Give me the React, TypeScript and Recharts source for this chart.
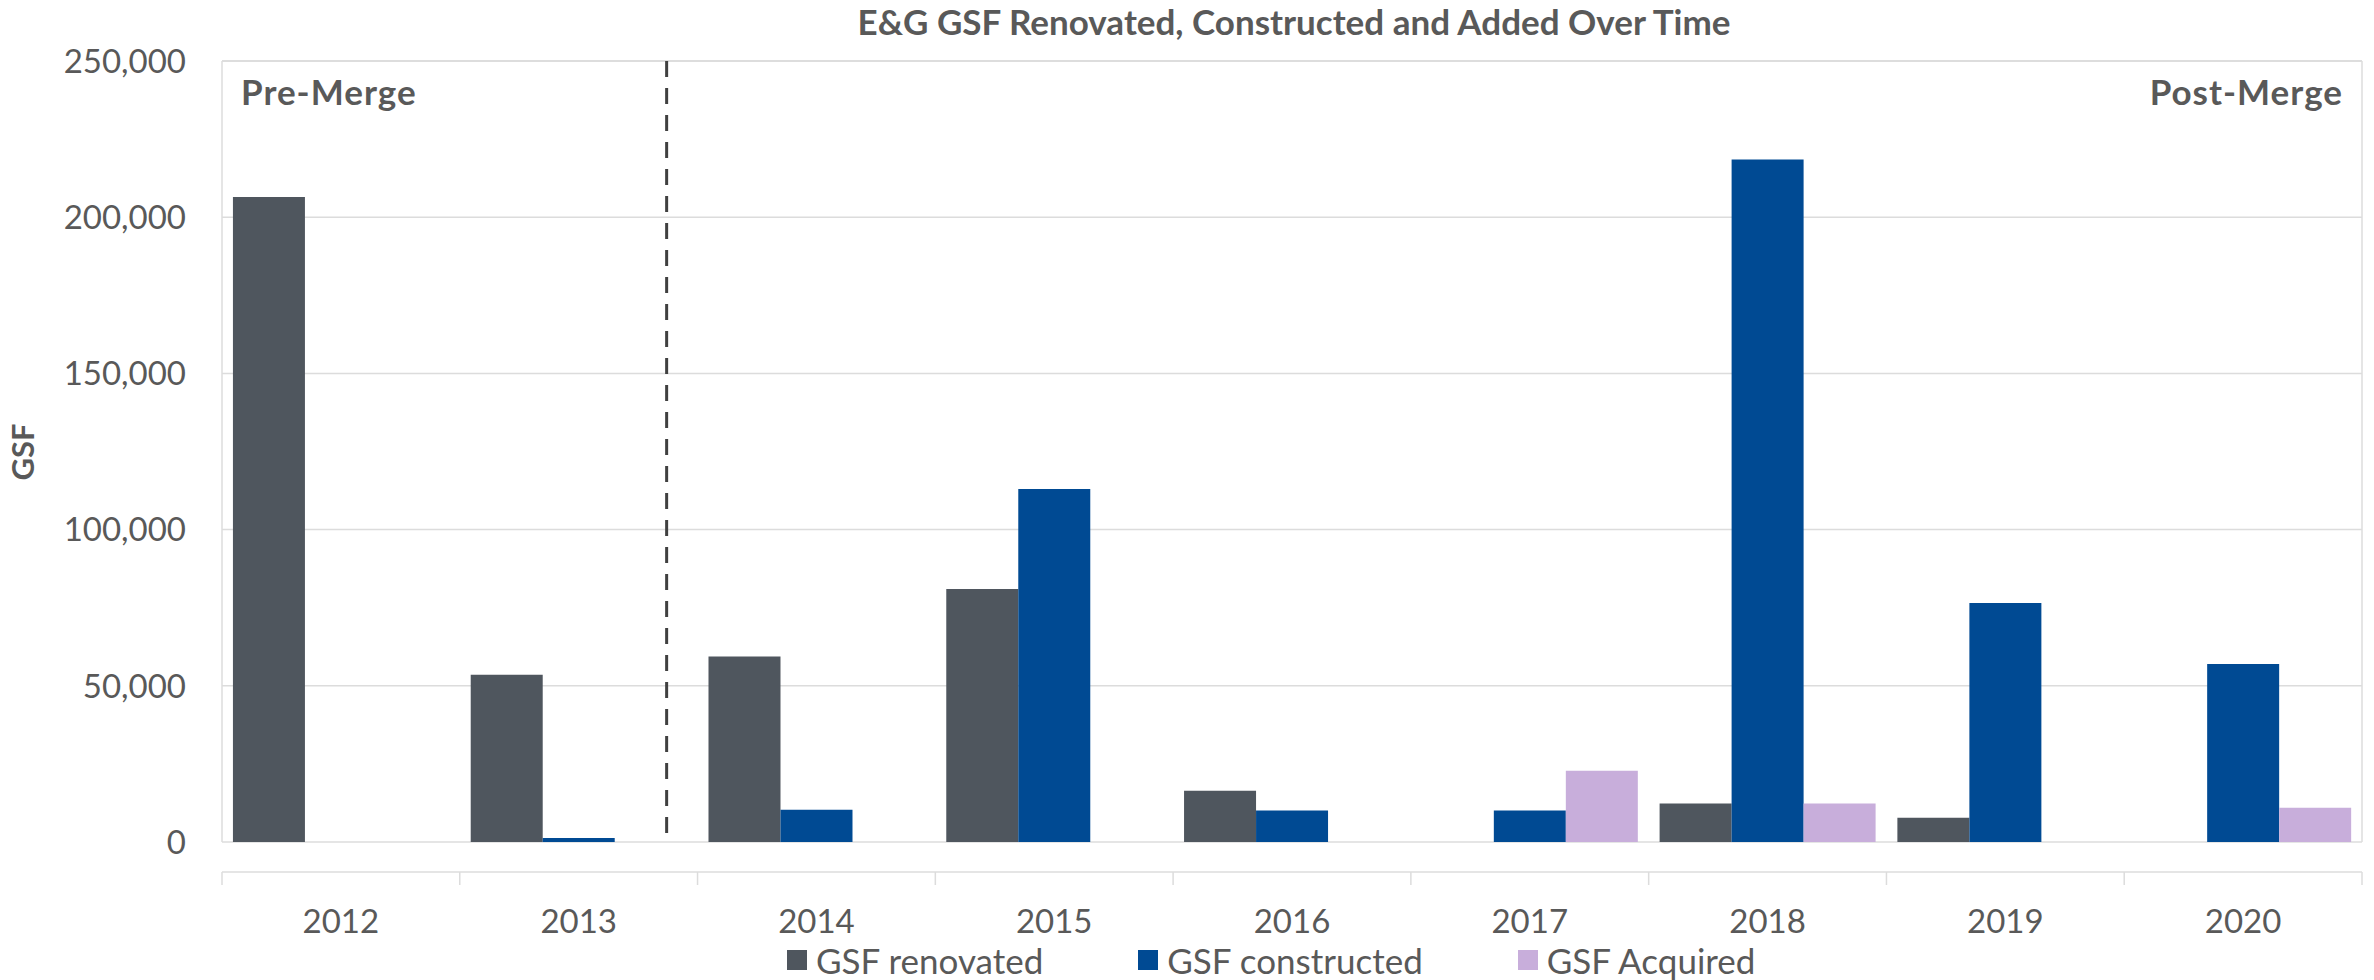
import {
  Bar,
  BarChart,
  CartesianGrid,
  Customized,
  Legend,
  ReferenceLine,
  XAxis,
  YAxis,
} from 'recharts';

const years = ['2012', '2013', '2014', '2015', '2016', '2017', '2018', '2019', '2020'];
const renovated = [206500, 53500, 59400, 81000, 16400, 0, 12300, 7800, 0];
const constructed = [0, 1300, 10300, 113000, 10100, 10100, 218500, 76500, 57000];
const acquired = [0, 0, 0, 0, 0, 22800, 12300, 0, 11000];
const yTicks = [0, 50000, 100000, 150000, 200000, 250000];
const seriesNames = ['GSF renovated', 'GSF constructed', 'GSF Acquired'];
const seriesColors = ['#4f565e', '#004a93', '#c8aedb'];
// the merge divider sits a little before the 2013/2014 boundary
const mergeAt = 1.87;

const FONT = 'Lato, "Open Sans", sans-serif';
const TEXT = '#595959';
const GRID = '#dcdcdc';

const rows = years.map((year, i) => ({
  year,
  slot: i + 0.5,
  renovated: renovated[i],
  constructed: constructed[i],
  acquired: acquired[i],
}));

// integer positions = category boundaries (tick marks), halves = year labels
const bottomTicks = years.flatMap((_, i) => [i, i + 0.5]).concat(years.length);

function YearTick({ x, y, payload }: any) {
  const v = payload.value;
  if (Number.isInteger(v)) {
    return <line x1={x} x2={x} y1={y} y2={y + 13} stroke={GRID} strokeWidth={1.5} />;
  }
  return (
    <text x={x} y={y + 61} textAnchor="middle" fill={TEXT} fontSize={33} fontFamily={FONT}>
      {years[Math.floor(v)]}
    </text>
  );
}

function LegendRow({ payload }: any) {
  const items = [...(payload || [])].sort(
    (a: any, b: any) => seriesNames.indexOf(a.value) - seriesNames.indexOf(b.value),
  );
  return (
    <div
      style={{
        display: 'flex',
        alignItems: 'center',
        paddingLeft: 787,
        height: 40,
        lineHeight: '40px',
        fontFamily: FONT,
        fontSize: 35,
        color: TEXT,
      }}
    >
      {items.map((e: any) => (
        <div key={e.value} style={{ display: 'flex', alignItems: 'center', marginRight: 95 }}>
          <span style={{ width: 20, height: 20, background: e.color, marginRight: 9 }} />
          <span>{e.value}</span>
        </div>
      ))}
    </div>
  );
}

function Titles() {
  return (
    <g fontFamily={FONT} fontWeight={700} fill={TEXT}>
      <text x={1294} y={35} textAnchor="middle" fontSize={35}>
        E&amp;G GSF Renovated, Constructed and Added Over Time
      </text>
      <text transform="translate(34, 452) rotate(-90)" textAnchor="middle" fontSize={31}>
        GSF
      </text>
    </g>
  );
}

const mergeLabel = (value: string, position: string) => ({
  value,
  position,
  offset: 19,
  fill: TEXT,
  fontSize: 35,
  fontWeight: 700,
  fontFamily: FONT,
  letterSpacing: 1,
});

export default function App() {
  return (
    <div style={{ position: 'absolute', left: 0, top: 0, width: 2374, height: 980, background: '#fff' }}>
      <BarChart
        width={2374}
        height={980}
        data={rows}
        margin={{ top: 61, right: 12, bottom: 0, left: 0 }}
        barCategoryGap="4.6%"
        barGap={0}
        style={{ fontFamily: FONT }}
      >
        <CartesianGrid vertical={false} stroke={GRID} strokeWidth={1.5} />
        <XAxis dataKey="year" hide />
        <XAxis
          xAxisId="b"
          dataKey="slot"
          type="number"
          domain={[0, years.length]}
          allowDataOverflow
          ticks={bottomTicks}
          interval={0}
          tick={<YearTick />}
          tickLine={false}
          tickSize={0}
          tickMargin={0}
          axisLine={{ stroke: GRID, strokeWidth: 1.5 }}
          height={138}
        />
        <YAxis
          domain={[0, 250000]}
          ticks={yTicks}
          tickFormatter={(v: number) => v.toLocaleString('en-US')}
          tick={{ fill: TEXT, fontSize: 33, fontFamily: FONT }}
          tickLine={false}
          tickSize={0}
          tickMargin={36}
          axisLine={{ stroke: GRID, strokeWidth: 1.5 }}
          width={222}
        />
        <Bar dataKey="renovated" name={seriesNames[0]} fill={seriesColors[0]} isAnimationActive={false} />
        <Bar dataKey="constructed" name={seriesNames[1]} fill={seriesColors[1]} isAnimationActive={false} />
        <Bar dataKey="acquired" name={seriesNames[2]} fill={seriesColors[2]} isAnimationActive={false} />
        <ReferenceLine xAxisId="b" x={years.length} stroke={GRID} strokeWidth={1.5} ifOverflow="visible" />
        <ReferenceLine y={250000} stroke={GRID} strokeWidth={1.5} label={mergeLabel('Pre-Merge', 'insideTopLeft')} />
        <ReferenceLine y={250000} stroke={GRID} strokeWidth={1.5} label={mergeLabel('Post-Merge', 'insideTopRight')} />
        <ReferenceLine
          xAxisId="b"
          segment={[
            { x: mergeAt, y: 250000 },
            { x: mergeAt, y: 2000 },
          ]}
          stroke="#404040"
          strokeWidth={3}
          strokeDasharray="16 11"
        />
        <Customized component={Titles} />
        <Legend
          layout="horizontal"
          verticalAlign="middle"
          align="center"
          wrapperStyle={{ top: 940, left: 0, width: 2374 }}
          content={LegendRow}
        />
      </BarChart>
    </div>
  );
}
